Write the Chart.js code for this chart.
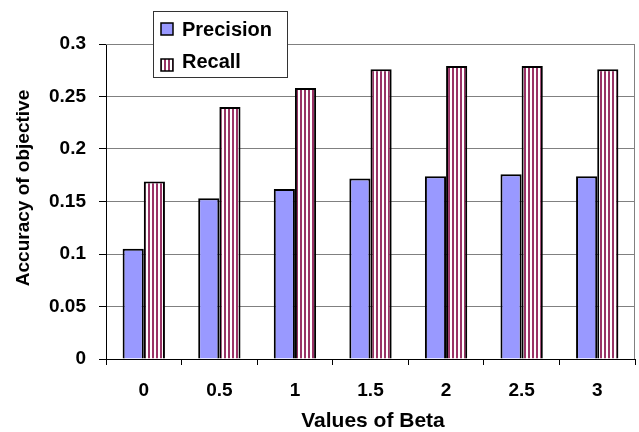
<!DOCTYPE html>
<html>
<head>
<meta charset="utf-8">
<script src="https://cdn.jsdelivr.net/npm/chart.js@4/dist/chart.umd.min.js"></script>
<style>
html,body{margin:0;padding:0;background:#fff;}
#wrap{width:639px;height:432px;position:relative;}
</style>
</head>
<body>
<div id="wrap"><canvas id="c" width="639" height="432"></canvas></div>
<script>
const categories = ["0", "0.5", "1", "1.5", "2", "2.5", "3"];
const precision = [0.105, 0.153, 0.162, 0.172, 0.174, 0.176, 0.174];
const recall = [0.169, 0.240, 0.258, 0.276, 0.279, 0.279, 0.276];
const yTicks = [0, 0.05, 0.1, 0.15, 0.2, 0.25, 0.3];
const xTitle = 'Values of Beta';
const yTitle = 'Accuracy of objective';

function stripePattern() {
  const p = document.createElement('canvas');
  p.width = 4; p.height = 4;
  const g = p.getContext('2d');
  g.fillStyle = '#ffffff'; g.fillRect(0,0,4,4);
  g.fillStyle = '#993366'; g.fillRect(0,0,2,4);
  return document.getElementById('c').getContext('2d').createPattern(p, 'repeat');
}
const stripes = stripePattern();
const FONT = "'Liberation Sans', Arial, sans-serif";

const frame = {
  id: 'frame',
  beforeDatasetsDraw(chart) {
    const a = chart.chartArea, ctx = chart.ctx;
    ctx.save();
    ctx.strokeStyle = '#808080'; ctx.lineWidth = 1;
    ctx.beginPath();
    ctx.moveTo(a.left, a.top + 0.5); ctx.lineTo(a.right - 0.5, a.top + 0.5);
    ctx.lineTo(a.right - 0.5, a.bottom);
    ctx.stroke();
    ctx.restore();
  },
  afterDraw(chart) {
    const ctx = chart.ctx;
    ctx.save();
    // axis titles
    ctx.fillStyle = '#000';
    ctx.font = 'bold 21px ' + FONT;
    ctx.textAlign = 'center';
    ctx.textBaseline = 'alphabetic';
    ctx.fillText(xTitle, 373, 427);
    ctx.save();
    ctx.translate(29, 188);
    ctx.rotate(-Math.PI / 2);
    ctx.font = 'bold 19px ' + FONT;
    ctx.fillText(yTitle, 0, 0);
    ctx.restore();
    // legend
    const x = 153, y = 11, w = 134, h = 66;
    ctx.fillStyle = '#fff'; ctx.fillRect(x, y, w, h);
    ctx.strokeStyle = '#333'; ctx.lineWidth = 1;
    ctx.strokeRect(x + 0.5, y + 0.5, w, h);
    const items = chart.data.datasets;
    const cy = [29, 65];
    const by = [36, 68];
    ctx.font = 'bold 20px ' + FONT;
    ctx.textAlign = 'left';
    items.forEach((ds, i) => {
      ctx.fillStyle = ds.backgroundColor;
      ctx.fillRect(161, cy[i] - 6, 12, 12);
      ctx.strokeStyle = '#000';
      ctx.lineWidth = 1.5;
      ctx.strokeRect(161, cy[i] - 6, 12, 12);
      ctx.fillStyle = '#000';
      ctx.fillText(ds.label, 182, by[i]);
    });
    ctx.restore();
  }
};

new Chart(document.getElementById('c'), {
  type: 'bar',
  data: {
    labels: categories,
    datasets: [
      { label: 'Precision', data: precision, backgroundColor: '#9999ff', borderColor: '#000', borderWidth: 2 },
      { label: 'Recall', data: recall, backgroundColor: stripes, borderColor: '#000', borderWidth: 2 }
    ]
  },
  options: {
    responsive: false,
    animation: false,
    devicePixelRatio: 1,
    layout: { padding: { left: 0, right: 4, top: 44, bottom: 0 } },
    datasets: { bar: { categoryPercentage: 0.56, barPercentage: 1.0 } },
    plugins: { legend: { display: false }, tooltip: { enabled: false } },
    scales: {
      x: {
        offset: true,
        grid: { drawOnChartArea: false, offset: true, tickLength: 6, color: '#000' },
        border: { color: '#000', width: 1 },
        ticks: { color: '#000', font: { family: FONT, size: 19, weight: 'bold' }, padding: 14 },
        afterFit(s) { s.height = 73; }
      },
      y: {
        min: 0, max: 0.3,
        afterBuildTicks(s) { s.ticks = yTicks.map(v => ({ value: v })); },
        grid: { color: '#808080', tickLength: 7, drawTicks: true, tickColor: '#000' },
        border: { color: '#000', width: 1 },
        ticks: { color: '#000', font: { family: FONT, size: 19, weight: 'bold' }, padding: 13, callback: v => String(v) },
        afterFit(s) { s.width = 106; }
      }
    }
  },
  plugins: [frame]
});
</script>
</body>
</html>
